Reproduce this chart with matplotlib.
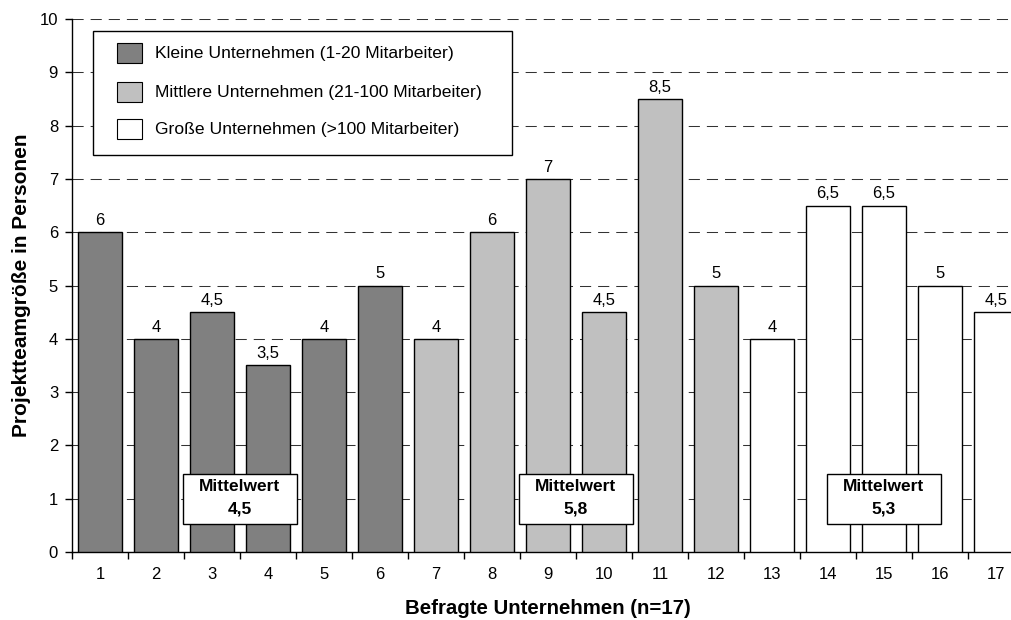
import matplotlib
matplotlib.use("Agg")
import matplotlib.pyplot as plt
from matplotlib.patches import Rectangle

plt.rcParams['font.family'] = ['Liberation Sans', 'DejaVu Sans']

companies = [str(i) for i in range(1, 18)]
values = [6, 4, 4.5, 3.5, 4, 5, 4, 6, 7, 4.5, 8.5, 5, 4, 6.5, 6.5, 5, 4.5]
groups = ['klein'] * 6 + ['mittel'] * 6 + ['gross'] * 5
group_order = ['klein', 'mittel', 'gross']
group_labels = {
    'klein': 'Kleine Unternehmen (1-20 Mitarbeiter)',
    'mittel': 'Mittlere Unternehmen (21-100 Mitarbeiter)',
    'gross': 'Große Unternehmen (>100 Mitarbeiter)',
}
group_colors = {'klein': '#808080', 'mittel': '#c0c0c0', 'gross': '#ffffff'}
mean_labels = ['4,5', '5,8', '5,3']

# layout constants (not data)
MEAN_X = [3.5, 9.5, 15.0]
MEAN_Y = 1.0
AX_L, AX_B, AX_W, AX_H = 72, 552, 952, 533   # pixels

fig = plt.figure(figsize=(10.12, 6.2), dpi=100)
ax = fig.add_axes([AX_L / 1012, 1 - AX_B / 620, AX_W / 1012, AX_H / 620])

def px(x, y):
    return ((x - AX_L) / AX_W, (AX_B - y) / AX_H)

x = list(range(1, 18))
colors = [group_colors[g] for g in groups]
ax.bar(x, values, width=0.77, color=colors, edgecolor='black', linewidth=1.0, zorder=3)

def fmt(v):
    return ('%g' % v).replace('.', ',')

for xi, v in zip(x, values):
    ax.annotate(fmt(v), (xi, v), xytext=(0, 3), textcoords='offset points',
                ha='center', va='bottom', fontsize=12, zorder=4)

ax.set_xlim(0.5, 17.5)
ax.set_ylim(0, 10)
ax.set_yticks(range(0, 11))
ax.set_yticklabels([str(i) for i in range(0, 11)], fontsize=12)
ax.yaxis.grid(True, linestyle=(0, (10.7, 6.7)), color='#333333', linewidth=0.75, zorder=0)
ax.set_axisbelow(True)

ax.set_xticks([i + 0.5 for i in range(0, 18)])
ax.set_xticklabels([])
ax.set_xticks(x, minor=True)
ax.set_xticklabels(companies, minor=True, fontsize=12)
ax.tick_params(axis='x', which='minor', length=0, pad=11)
ax.tick_params(axis='x', which='major', length=5, width=1, color='black', direction='out')
ax.tick_params(axis='y', length=5, width=1, direction='out', pad=5)

for s in ['top', 'right']:
    ax.spines[s].set_visible(False)
ax.spines['left'].set_linewidth(1)
ax.spines['bottom'].set_linewidth(1)

ax.set_xlabel('Befragte Unternehmen (n=17)', fontsize=14.7, fontweight='bold', labelpad=12)
ax.set_ylabel('Projektteamgröße in Personen', fontsize=15, fontweight='bold', labelpad=6)

# legend drawn manually to match reference box
bx0, by0 = px(93, 155)
bx1, by1 = px(512, 31)
ax.add_patch(Rectangle((bx0, by0), bx1 - bx0, by1 - by0, transform=ax.transAxes,
                       facecolor='white', edgecolor='black', linewidth=1, zorder=7))
row_y = [53, 92, 129]
for g, ry in zip(group_order, row_y):
    hx0, hy0 = px(117, ry + 10)
    hx1, hy1 = px(142, ry - 10)
    ax.add_patch(Rectangle((hx0, hy0), hx1 - hx0, hy1 - hy0, transform=ax.transAxes,
                           facecolor=group_colors[g], edgecolor='black', linewidth=0.8, zorder=8))
    tx, ty = px(155, ry)
    ax.text(tx, ty, group_labels[g], transform=ax.transAxes, ha='left', va='center',
            fontsize=12.6, zorder=9)

for xp, lab in zip(MEAN_X, mean_labels):
    ax.add_patch(Rectangle((xp - 1.02, MEAN_Y - 0.47), 2.04, 0.94, facecolor='white',
                           edgecolor='black', linewidth=1, zorder=6))
    ax.text(xp, MEAN_Y + 0.22, 'Mittelwert', ha='center', va='center', fontsize=12.5,
            fontweight='bold', zorder=7)
    ax.text(xp, MEAN_Y - 0.20, lab, ha='center', va='center', fontsize=12.5,
            fontweight='bold', zorder=7)

fig.savefig('out.png', dpi=100)
